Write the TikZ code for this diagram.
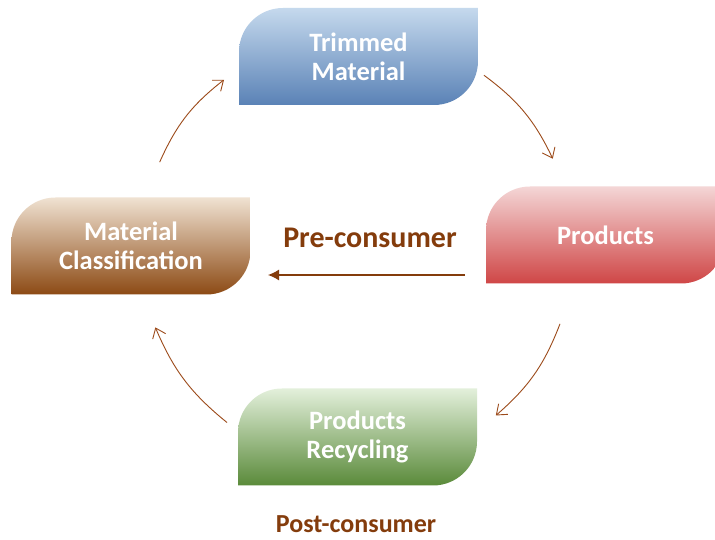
\documentclass[tikz,border=0pt]{standalone}
\usepackage{fontspec}
\setmainfont{Carlito}
\usetikzlibrary{arrows.meta, positioning, calc}

\definecolor{labelbrown}{HTML}{843C0C}
\definecolor{arcbrown}{HTML}{9C4A1A}
\definecolor{trimtop}{HTML}{C5D9ED}
\definecolor{trimmid}{HTML}{94B3D6}
\definecolor{trimbot}{HTML}{5A82B6}
\definecolor{prodtop}{HTML}{F4D6D6}
\definecolor{prodmid}{HTML}{EC9A9A}
\definecolor{prodbot}{HTML}{CF4646}
\definecolor{recytop}{HTML}{E3F0DB}
\definecolor{recymid}{HTML}{AFD495}
\definecolor{recybot}{HTML}{5A8A3A}
\definecolor{clastop}{HTML}{F0E2D2}
\definecolor{clasmid}{HTML}{E2B464}
\definecolor{clasbot}{HTML}{8C4A14}

\tikzset{
  leaf/.style n args={3}{minimum width=239pt, minimum height=97pt, inner sep=0pt, outer sep=0pt,
    text=white, align=center, font=\fontsize{26.5}{29}\selectfont\bfseries,
    path picture={
      \shade[top color=#1, middle color=#2, bottom color=#3]
        (path picture bounding box.south west) -- ([yshift=-44pt]path picture bounding box.north west)
        arc[start angle=180, end angle=90, radius=44pt]
        -- (path picture bounding box.north east) -- ([yshift=44pt]path picture bounding box.south east)
        arc[start angle=0, end angle=-90, radius=44pt] -- cycle;
    }},
  flow/.style={draw=arcbrown, line width=0.9pt, -{Straight Barb[length=9pt, width=14pt]}},
  phase/.style={text=labelbrown, font=\fontsize{30}{34}\selectfont\bfseries}
}

\begin{document}
\begin{tikzpicture}[x=1pt, y=1pt]
  \clip (0,0) rectangle (715,540);
  \fill[white] (0,0) rectangle (715,540);

  % Boxes
  \node[leaf={trimtop}{trimmid}{trimbot}] (trim) at (358.5,483.5) {Trimmed\\Material};
  \node[leaf={prodtop}{prodmid}{prodbot}] (prod) at (605.5,305) {Products};
  \node[leaf={recytop}{recymid}{recybot}] (recy) at (357.5,103) {Products\\Recycling};
  \node[leaf={clastop}{clasmid}{clasbot}] (clas) at (131,294) {Material\\Classification};

  % Labels
  \node[phase] (pre) at (370,302) {Pre-consumer};
  \node[phase, font=\fontsize{26}{30}\selectfont\bfseries] (post) at (356,16) {Post-consumer};

  % Cycle arrows
  \begin{scope}[shift={(357,290)}]
    \coordinate (a1) at (156:216);
    \coordinate (b1) at (128:216);
    \coordinate (a2) at (54:216);
    \coordinate (b2) at (25:216);
    \coordinate (a3) at (-20:216);
    \coordinate (b3) at (-50:216);
    \coordinate (a4) at (-127:216);
    \coordinate (b4) at (-159:216);
  \end{scope}
  \draw[flow] (a1) to[bend left=14] (b1);
  \draw[flow] (a2) to[bend left=14] (b2);
  \draw[flow] (a3) to[bend left=14] (b3);
  \draw[flow] (a4) to[bend left=14] (b4);

  % Pre-consumer arrow
  \coordinate (p1) at (465,265);
  \coordinate (p2) at (268,265);
  \draw[labelbrown, line width=1.2pt, -{Latex[length=11pt, width=11pt]}] (p1) -- (p2);
\end{tikzpicture}
\end{document}
